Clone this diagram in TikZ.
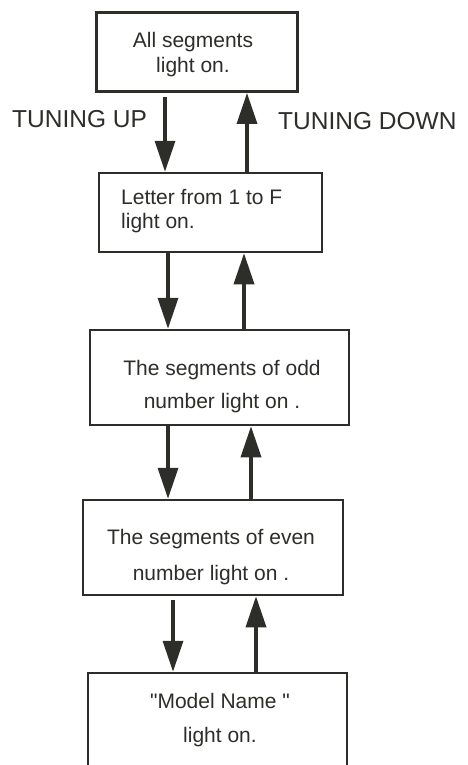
\documentclass[tikz,border=0pt]{standalone}
\usepackage{fontspec}
\setmainfont{Liberation Sans}
\usetikzlibrary{arrows.meta,positioning}
\definecolor{inkgray}{RGB}{45,45,42}

\begin{document}
\begin{tikzpicture}[x=1pt,y=-1pt,
    block_box/.style ={rectangle, draw=inkgray, line width=2.5pt, fill=white,
      inner sep=0pt},
    block_text/.style ={inner sep=0pt, text=inkgray, align=center, anchor=base},
    block_tune/.style ={inner sep=0pt, text=inkgray, anchor=base west,
      font={\fontsize{24.5pt}{28pt}\selectfont}},
    paths2/.style={draw=inkgray, line width=3.5pt,
      arrows={-Triangle[length=31pt, width=20pt, inkgray]}}]
  \useasboundingbox (0,0) rectangle (467,765);
  % the five display states
  \node[block_box, minimum width=201pt, minimum height=79pt] (allseg) at (197.2,52.2) {};
  \node[block_box, minimum width=223pt, minimum height=79pt] (letter) at (210.5,212.5) {};
  \node[block_box, minimum width=259pt, minimum height=95pt] (odd) at (219.5,377.5) {};
  \node[block_box, minimum width=260pt, minimum height=95pt] (even) at (213,547.5) {};
  \node[block_box, minimum width=259pt, minimum height=117pt] (model) at (217.5,731.5) {}; % runs off the page
  % texts in the boxes (base = last line)
  \node[block_text, font={\fontsize{21pt}{25.4pt}\selectfont}] (allsegtxt) at (193,72.7) {All segments\\light on.};
  \node[block_text, align=left, anchor=base west, font={\fontsize{21pt}{24pt}\selectfont}] (lettertxt) at (121,228) {Letter from 1 to F\\light on.};
  \node[block_text, font={\fontsize{21pt}{33pt}\selectfont}] (oddtxt) at (222,408) {The segments of odd\\ number light on .};
  \node[block_text, font={\fontsize{21pt}{36pt}\selectfont}] (eventxt) at (211,580) {The segments of even\\ number light on .};
  \node[block_text, font={\fontsize{21pt}{34pt}\selectfont}] (modeltxt) at (220,742) {\textquotedbl Model Name \textquotedbl\\light on.};
  % direction labels
  \node[block_tune] (tuneup) at (12,128) {TUNING UP};
  \node[block_tune] (tunedown) at (278,129) {TUNING DOWN};
  % connecting the boxes
  \begin{scope}[every path/.style=paths2]
    \path([xshift=-32.2pt,yshift=-4pt]allseg.south)--([xshift=-32.2pt]allseg.south |- letter.north);
    \path([xshift=49.8pt]allseg.south |- letter.north)--([xshift=49.8pt]allseg.south);
    \path([xshift=-42.5pt]letter.south)--([xshift=-42.5pt]letter.south |- odd.north);
    \path([xshift=33.5pt]letter.south |- odd.north)--([xshift=33.5pt]letter.south);
    \path([xshift=-51.5pt]odd.south)--([xshift=-51.5pt]odd.south |- even.north);
    \path([xshift=31.5pt]odd.south |- even.north)--([xshift=31.5pt]odd.south);
    \path([xshift=-40pt,yshift=-4pt]even.south)--([xshift=-40pt]even.south |- model.north);
    \path([xshift=43pt]even.south |- model.north)--([xshift=43pt]even.south);
  \end{scope}
\end{tikzpicture}
\end{document}
